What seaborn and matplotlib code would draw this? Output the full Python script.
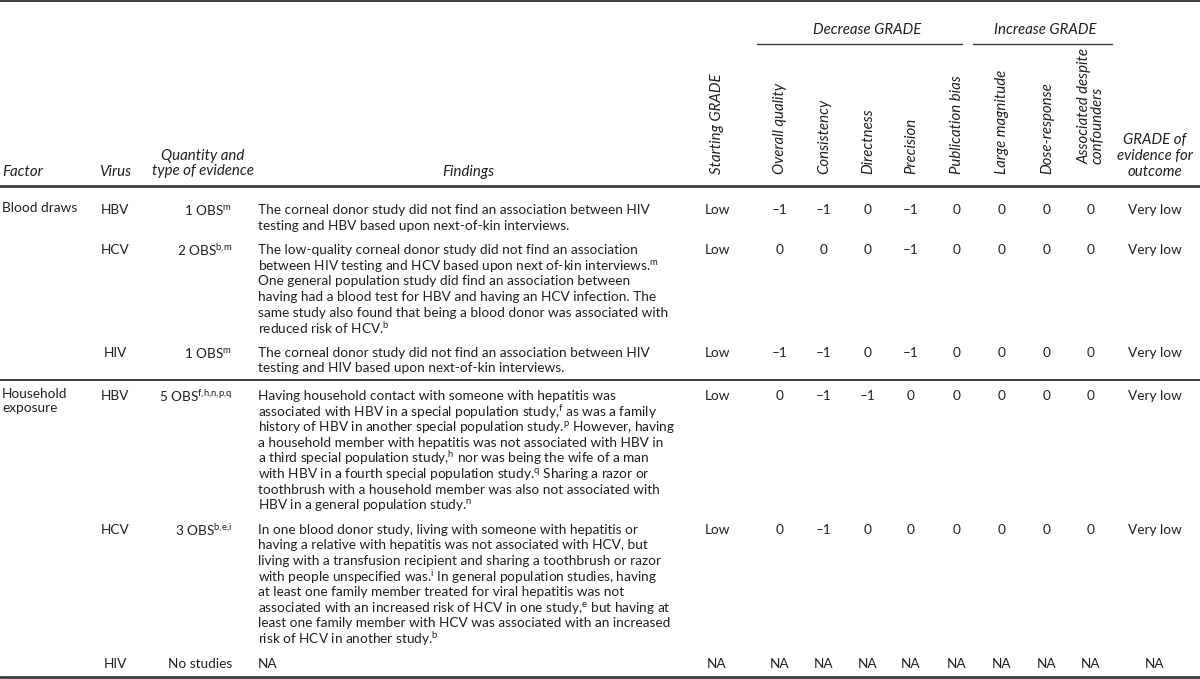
import matplotlib.pyplot as plt
import seaborn as sns

sns.set_theme(style='white')
plt.rcParams['font.family'] = ['Lato', 'DejaVu Sans']
plt.rcParams['mathtext.fontset'] = 'custom'
plt.rcParams['mathtext.rm'] = 'Lato'
plt.rcParams['mathtext.it'] = 'Lato:italic'

# Table content
factors = ['Blood draws', '', '', 'Household\nexposure', '', '']
viruses = ['HBV', 'HCV', 'HIV', 'HBV', 'HCV', 'HIV']
evidence = ['1 OBS$^{\\mathrm{m}}$', '2 OBS$^{\\mathrm{b{,}m}}$', '1 OBS$^{\\mathrm{m}}$',
            '5 OBS$^{\\mathrm{f{,}h{,}n{,}p{,}q}}$', '3 OBS$^{\\mathrm{b{,}e{,}i}}$', 'No studies']
findings = [
    ['The corneal donor study did not find an association between HIV',
     'testing and HBV based upon next-of-kin interviews.'],
    ['The low-quality corneal donor study did not find an association',
     'between HIV testing and HCV based upon next of-kin interviews.$^{\\mathrm{m}}$',
     'One general population study did find an association between',
     'having had a blood test for HBV and having an HCV infection. The',
     'same study also found that being a blood donor was associated with',
     'reduced risk of HCV.$^{\\mathrm{b}}$'],
    ['The corneal donor study did not find an association between HIV',
     'testing and HIV based upon next-of-kin interviews.'],
    ['Having household contact with someone with hepatitis was',
     'associated with HBV in a special population study,$^{\\mathrm{f}}$ as was a family',
     'history of HBV in another special population study.$^{\\mathrm{p}}$ However, having',
     'a household member with hepatitis was not associated with HBV in',
     'a third special population study,$^{\\mathrm{h}}$ nor was being the wife of a man',
     'with HBV in a fourth special population study.$^{\\mathrm{q}}$ Sharing a razor or',
     'toothbrush with a household member was also not associated with',
     'HBV in a general population study.$^{\\mathrm{n}}$'],
    ['In one blood donor study, living with someone with hepatitis or',
     'having a relative with hepatitis was not associated with HCV, but',
     'living with a transfusion recipient and sharing a toothbrush or razor',
     'with people unspecified was.$^{\\mathrm{i}}$ In general population studies, having',
     'at least one family member treated for viral hepatitis was not',
     'associated with an increased risk of HCV in one study,$^{\\mathrm{e}}$ but having at',
     'least one family member with HCV was associated with an increased',
     'risk of HCV in another study.$^{\\mathrm{b}}$'],
    ['NA'],
]
starting_grade = ['Low', 'Low', 'Low', 'Low', 'Low', 'NA']
overall_quality = ['–1', '0', '–1', '0', '0', 'NA']
consistency = ['–1', '0', '–1', '–1', '–1', 'NA']
directness = ['0', '0', '0', '–1', '0', 'NA']
precision = ['–1', '–1', '–1', '0', '0', 'NA']
publication_bias = ['0', '0', '0', '0', '0', 'NA']
large_magnitude = ['0', '0', '0', '0', '0', 'NA']
dose_response = ['0', '0', '0', '0', '0', 'NA']
confounders = ['0', '0', '0', '0', '0', 'NA']
outcome_grade = ['Very low', 'Very low', 'Very low', 'Very low', 'Very low', 'NA']

score_cols = [starting_grade, overall_quality, consistency, directness, precision,
              publication_bias, large_magnitude, dose_response, confounders, outcome_grade]
score_labels = ['Starting GRADE', 'Overall quality', 'Consistency', 'Directness', 'Precision',
                'Publication bias', 'Large magnitude', 'Dose-response',
                'Associated despite\nconfounders']

# Layout (pixels)
W, H = 1200, 679
FS = 9.8     # body text
HFS = 10.8   # italic headers
INK = '#231f20'
RULE = '#3c3c3c'
score_x = [717, 780, 824, 868, 911, 957, 1002, 1047, 1091, 1155]
line_h = 15.6
row_gap = 9.0

fig = plt.figure(figsize=(12, 6.79), dpi=100)
ax = fig.add_axes([0, 0, 1, 1])
ax.set_xlim(0, W)
ax.set_ylim(H, 0)
ax.axis('off')

# rules
ax.plot([0, W], [1.2, 1.2], color=RULE, lw=1.4)
ax.plot([0, W], [186, 186], color=RULE, lw=2.0)
ax.plot([757, 962], [44, 44], color=RULE, lw=1.0)
ax.plot([973, 1112], [44, 44], color=RULE, lw=1.0)
ax.text(867, 30, 'Decrease GRADE', ha='center', va='center', fontsize=HFS, style='italic', color=INK)
ax.text(1045, 30, 'Increase GRADE', ha='center', va='center', fontsize=HFS, style='italic', color=INK)

# column headers
ax.text(2, 172, 'Factor', ha='left', va='center', fontsize=HFS, style='italic', color=INK)
ax.text(115, 172, 'Virus', ha='center', va='center', fontsize=HFS, style='italic', color=INK)
ax.text(203, 163.5, 'Quantity and\ntype of evidence', ha='center', va='center', fontsize=HFS,
        style='italic', color=INK, linespacing=1.15)
ax.text(468, 172, 'Findings', ha='center', va='center', fontsize=HFS, style='italic', color=INK)
for x, lab in zip(score_x[:-1], score_labels):
    bottom = 164 if '\n' in lab else 174
    ax.text(x, bottom, lab, rotation=90, ha='center', va='bottom', fontsize=HFS,
            style='italic', color=INK, multialignment='left', linespacing=1.0)
ax.text(score_x[-1], 156, 'GRADE of\nevidence for\noutcome', ha='center', va='center',
        fontsize=HFS, style='italic', color=INK, linespacing=1.15)

# body rows
y = 210
for i in range(len(viruses)):
    if i == 3:
        ax.plot([0, W], [380, 380], color=RULE, lw=1.4)
        y = 396
    if factors[i]:
        ax.text(2, y - line_h / 2, factors[i], ha='left', va='top', fontsize=FS,
                color=INK, linespacing=1.2)
    ax.text(115, y, viruses[i], ha='center', va='center', fontsize=FS, color=INK)
    ax.text(232, y, evidence[i], ha='right', va='center', fontsize=FS, color=INK)
    for k, line in enumerate(findings[i]):
        ax.text(258, y + k * line_h, line, ha='left', va='center', fontsize=FS, color=INK)
    for x, col in zip(score_x, score_cols):
        ax.text(x, y, col[i], ha='center', va='center', fontsize=FS, color=INK)
    y += len(findings[i]) * line_h + row_gap

ax.plot([0, W], [677, 677], color=RULE, lw=2.0)

fig.savefig('out.png', dpi=100)
